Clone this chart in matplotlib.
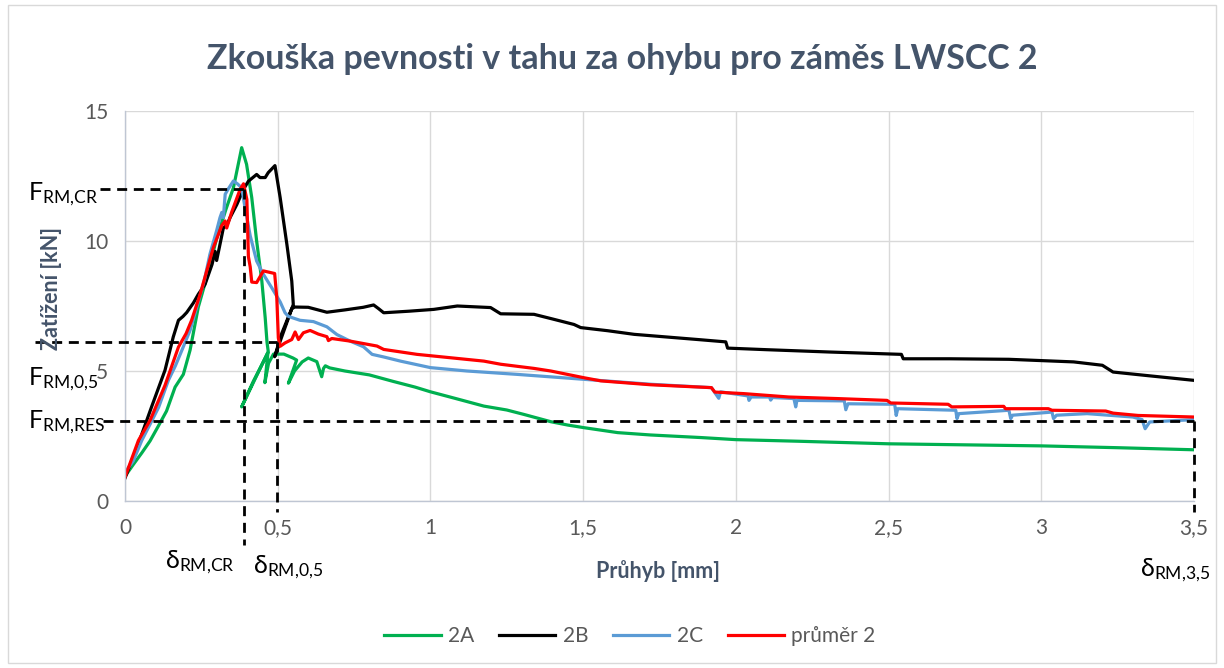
import matplotlib
matplotlib.use("Agg")
import matplotlib.pyplot as plt
from matplotlib.patches import Rectangle
from matplotlib.ticker import FuncFormatter, MultipleLocator

plt.rcParams['font.family'] = ['Lato', 'DejaVu Sans']
plt.rcParams['mathtext.default'] = 'regular'

# ---------------- data ----------------
x_2A = [0, 0.027, 0.055, 0.082, 0.11, 0.136, 0.164, 0.191, 0.213, 0.24, 0.27, 0.3, 0.33, 0.355,
        0.382, 0.398, 0.415, 0.431, 0.448, 0.459, 0.465, 0.469, 0.382, 0.42, 0.464, 0.468, 0.458,
        0.47, 0.486, 0.52, 0.55, 0.562, 0.535, 0.555, 0.58, 0.6, 0.628, 0.644, 0.65, 0.656, 0.67,
        0.72, 0.8, 0.878, 0.95, 1.0, 1.08, 1.175, 1.25, 1.306, 1.394, 1.45, 1.503, 1.613, 1.72,
        1.886, 2.0, 2.2, 2.5, 2.75, 3.0, 3.25, 3.5]
y_2A = [0.95, 1.4, 1.85, 2.31, 2.9, 3.46, 4.38, 4.87, 5.8, 7.46, 8.7, 10.1, 11.2, 12.05,
        13.59, 12.95, 11.67, 10.0, 8.46, 7.05, 6.1, 5.75, 3.62, 4.6, 5.6, 5.7, 4.55,
        5.3, 5.65, 5.65, 5.5, 5.42, 4.53, 5.0, 5.35, 5.5, 5.36, 4.78, 5.1, 5.2, 5.12,
        5.0, 4.85, 4.6, 4.38, 4.2, 3.95, 3.65, 3.5, 3.33, 3.05, 2.92, 2.82, 2.63, 2.54,
        2.44, 2.36, 2.3, 2.2, 2.16, 2.12, 2.05, 1.97]

x_2B = [0, 0.044, 0.087, 0.131, 0.158, 0.175, 0.19, 0.202, 0.224, 0.24, 0.262, 0.285, 0.295, 0.3,
        0.311, 0.322, 0.333, 0.344, 0.366, 0.388, 0.404, 0.431, 0.442, 0.459, 0.469, 0.491, 0.508,
        0.53, 0.546, 0.551, 0.49, 0.513, 0.546, 0.556, 0.6, 0.661, 0.72, 0.78, 0.814, 0.83, 0.847,
        0.93, 1.011, 1.088, 1.197, 1.23, 1.339, 1.4, 1.47, 1.492, 1.58, 1.667, 1.886, 1.967, 1.973,
        2.1, 2.307, 2.542, 2.548, 2.7, 2.894, 3.106, 3.2, 3.235, 3.35, 3.5]
y_2B = [0.88, 2.21, 3.62, 5.03, 6.31, 6.95, 7.1, 7.25, 7.62, 7.95, 8.33, 9.1, 9.6, 9.25,
        9.87, 10.5, 10.6, 10.9, 11.4, 11.99, 12.3, 12.56, 12.44, 12.44, 12.63, 12.9, 11.67,
        9.87, 8.46, 7.56, 5.55, 6.44, 7.4, 7.46, 7.45, 7.26, 7.35, 7.45, 7.54, 7.4, 7.24,
        7.3, 7.37, 7.5, 7.44, 7.2, 7.18, 7.0, 6.79, 6.67, 6.55, 6.41, 6.2, 6.12, 5.88,
        5.82, 5.73, 5.64, 5.47, 5.47, 5.45, 5.35, 5.22, 4.96, 4.82, 4.64]

x_2C = [0, 0.005, 0.027, 0.055, 0.082, 0.11, 0.142, 0.165, 0.186, 0.213, 0.235, 0.26, 0.278, 0.3,
        0.311, 0.317, 0.322, 0.328, 0.338, 0.355, 0.368, 0.382, 0.393, 0.41, 0.431, 0.453, 0.48,
        0.508, 0.524, 0.535, 0.573, 0.617, 0.661, 0.694, 0.737, 0.781, 0.809, 0.847, 0.902, 1.0,
        1.12, 1.284, 1.503, 1.722, 1.92, 1.944, 1.95, 2.04, 2.043, 2.05, 2.11, 2.114, 2.12, 2.19,
        2.196, 2.2, 2.355, 2.36, 2.367, 2.52, 2.525, 2.53, 2.72, 2.724, 2.73, 2.894, 2.9, 2.906,
        3.035, 3.04, 3.05, 3.15, 3.3, 3.33, 3.34, 3.355, 3.5]
y_2C = [1.0, 1.18, 1.54, 2.33, 2.95, 3.6, 4.64, 5.2, 5.79, 6.56, 7.46, 8.5, 9.49, 10.4,
        10.9, 11.1, 10.9, 11.8, 12.0, 12.31, 12.2, 12.05, 11.28, 10.2, 9.23, 8.72, 8.21,
        7.66, 7.24, 7.1, 6.95, 6.9, 6.7, 6.4, 6.15, 5.93, 5.64, 5.54, 5.38, 5.13,
        5.0, 4.87, 4.68, 4.49, 4.36, 3.95, 4.2, 4.04, 3.87, 4.0, 4.0, 3.88, 3.98, 3.94,
        3.62, 3.87, 3.85, 3.51, 3.74, 3.72, 3.29, 3.55, 3.49, 3.17, 3.36, 3.49, 3.17, 3.3,
        3.42, 3.17, 3.3, 3.36, 3.23, 3.13, 2.78, 3.04, 3.13]

x_avg = [0, 0.044, 0.082, 0.131, 0.175, 0.2, 0.218, 0.246, 0.289, 0.306, 0.317, 0.328, 0.333,
         0.349, 0.377, 0.388, 0.399, 0.404, 0.41, 0.415, 0.431, 0.453, 0.49, 0.497, 0.502, 0.508,
         0.524, 0.546, 0.557, 0.568, 0.584, 0.606, 0.633, 0.661, 0.666, 0.677, 0.737, 0.825,
         0.847, 0.956, 1.175, 1.23, 1.339, 1.394, 1.503, 1.558, 1.722, 1.92, 1.931, 2.026,
         2.173, 2.331, 2.495, 2.507, 2.695, 2.707, 2.877, 2.883, 3.023, 3.035, 3.211, 3.235,
         3.317, 3.5]
y_avg = [0.92, 2.33, 3.1, 4.45, 5.92, 6.44, 6.95, 7.95, 9.74, 10.26, 10.6, 10.77, 10.5,
         11.1, 11.99, 12.2, 11.6, 9.4, 9.0, 8.42, 8.4, 8.85, 8.75, 7.81, 6.27, 5.95,
         6.08, 6.21, 6.5, 6.21, 6.47, 6.56, 6.42, 6.32, 6.17, 6.25, 6.15, 5.96,
         5.83, 5.64, 5.38, 5.26, 5.1, 5.0, 4.74, 4.62, 4.47, 4.36, 4.19, 4.13,
         4.0, 3.94, 3.87, 3.77, 3.72, 3.62, 3.64, 3.55, 3.55, 3.49, 3.46, 3.38,
         3.29, 3.23]

series_names = ['2A', '2B', '2C', 'průměr 2']
series_colors = ['#00B050', '#000000', '#5B9BD5', '#FF0000']

# characteristic values
F_cr, F_05, F_res = 12.0, 6.12, 3.08
d_cr, d_05, d_35 = 0.39, 0.498, 3.5

title = 'Zkouška pevnosti v tahu za ohybu pro záměs LWSCC 2'
xlabel = 'Průhyb [mm]'
ylabel = 'Zatížení [kN]'

# ---------------- figure ----------------
W, H = 1224, 668
fig = plt.figure(figsize=(W / 100, H / 100), dpi=100)
fig.patches.append(Rectangle((8 / W, 5 / H), 1 - 16 / W, 1 - 10 / H, transform=fig.transFigure,
                             fill=False, edgecolor='#D9D9D9', lw=1))

ax = fig.add_axes([125 / W, 1 - 501 / H, (1194 - 125) / W, (501 - 111) / H])
ax.set_xlim(0, 3.5)
ax.set_ylim(0, 15)
ax.xaxis.set_major_locator(MultipleLocator(0.5))
ax.yaxis.set_major_locator(MultipleLocator(5))
fmt = FuncFormatter(lambda v, p: ('%g' % v).replace('.', ','))
ax.xaxis.set_major_formatter(fmt)
ax.yaxis.set_major_formatter(fmt)
ax.grid(True, color='#D9D9D9', lw=1)
ax.set_axisbelow(True)
for s in ['top', 'right']:
    ax.spines[s].set_visible(False)
for s in ['left', 'bottom']:
    ax.spines[s].set_color('#BFC6D3')
    ax.spines[s].set_linewidth(1)
ax.tick_params(axis='both', length=0, labelsize=15, labelcolor='#595959')
ax.tick_params(axis='x', pad=12)
ax.tick_params(axis='y', pad=12)

xs = [x_2A, x_2B, x_2C, x_avg]
ys = [y_2A, y_2B, y_2C, y_avg]
for xv, yv, name, c in zip(xs, ys, series_names, series_colors):
    ax.plot(xv, yv, color=c, lw=2.3, label=name, solid_joinstyle='round')

dash = dict(color='black', lw=2, linestyle=(0, (3.6, 2.4)), clip_on=False, zorder=5)
ax.plot([-0.082, d_cr], [F_cr, F_cr], **dash)
ax.plot([-0.295, d_05], [F_05, F_05], **dash)
ax.plot([-0.072, d_35], [F_res, F_res], **dash)
ax.plot([d_cr, d_cr], [F_cr, -1.69], **dash)
ax.plot([d_05, d_05], [F_05, -0.42], **dash)
ax.plot([d_35, d_35], [F_res, -0.42], **dash)

ann = dict(fontsize=18, color='black', clip_on=False, va='baseline')
ax.text(-0.3176, 11.58, r'$F_{RM{,}CR}$', ha='left', **ann)
ax.text(-0.3176, 4.46, r'$F_{RM{,}0{,}5}$', ha='left', **ann)
ax.text(-0.3176, 2.81, r'$F_{RM{,}RES}$', ha='left', **ann)
ax.text(0.131, -2.58, r'$δ_{RM{,}CR}$', ha='left', **ann)
ax.text(0.419, -2.75, r'$δ_{RM{,}0{,}5}$', ha='left', **ann)
ax.text(3.323, -2.88, r'$δ_{RM{,}3{,}5}$', ha='left', **ann)

fig.text(622 / W, 1 - 59 / H, title, ha='center', va='center', fontsize=24.5,
         fontweight='bold', color='#44546A')
fig.text(52 / W, 1 - 288 / H, ylabel, ha='center', va='center', rotation=90,
         fontsize=15.5, fontweight='bold', color='#44546A')
fig.text(658 / W, 1 - 571 / H, xlabel, ha='center', va='center',
         fontsize=15.5, fontweight='bold', color='#44546A')

leg = fig.legend(loc='center', bbox_to_anchor=(630 / W, 1 - 636 / H), ncol=4, frameon=False,
                 fontsize=15, handlelength=2.7, handletextpad=0.35, columnspacing=1.2)
for t in leg.get_texts():
    t.set_color('#595959')

fig.savefig('out.png', dpi=100)
